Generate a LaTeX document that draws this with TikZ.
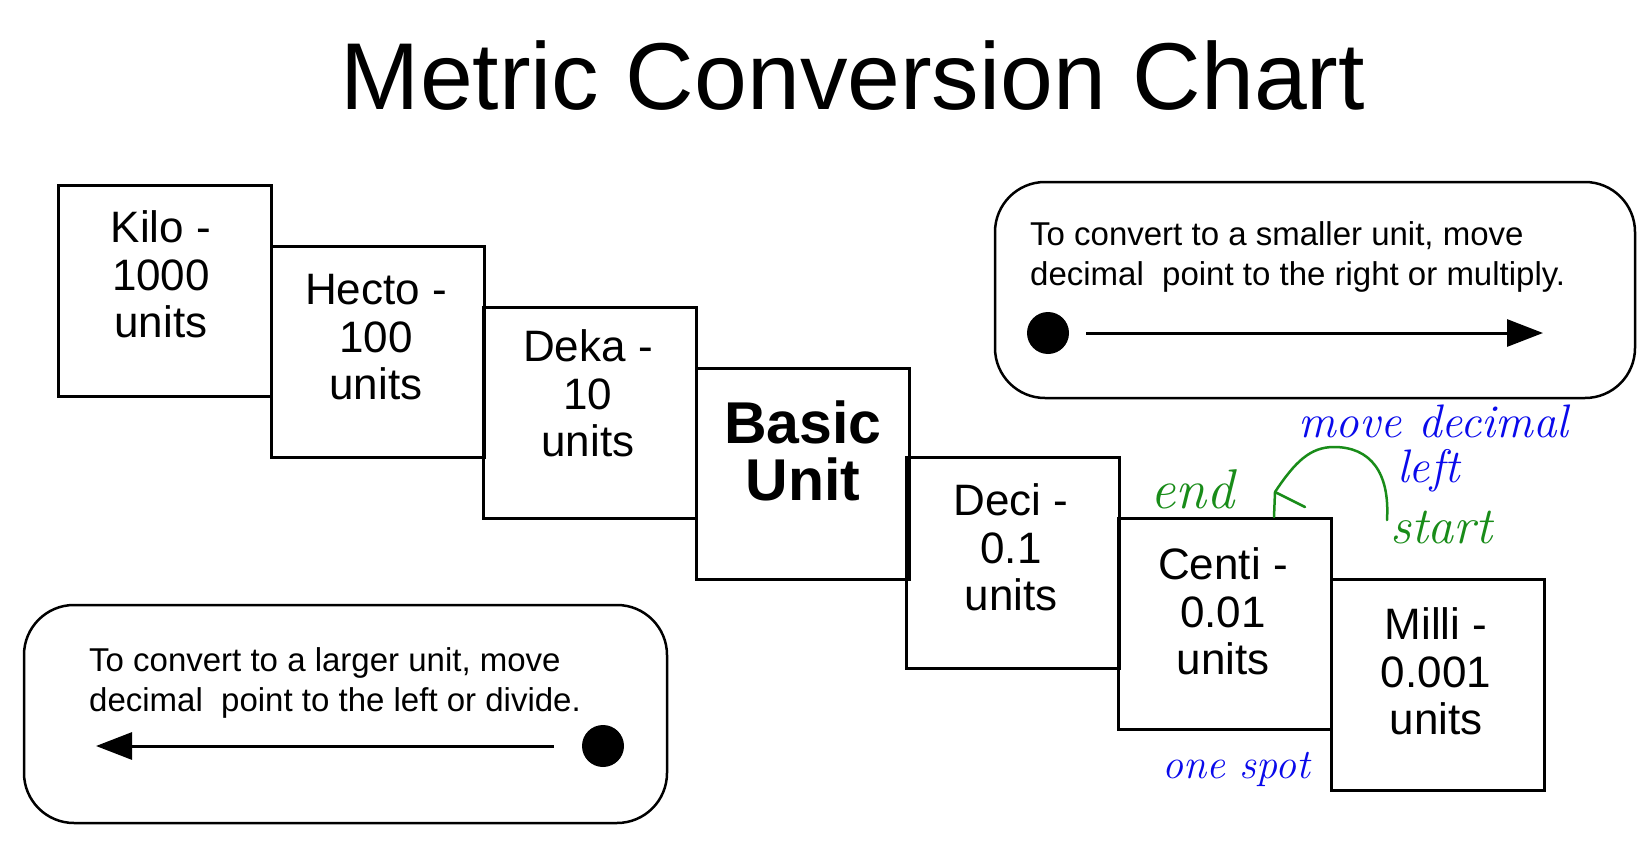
\documentclass[tikz,border=0pt]{standalone}
\usepackage{fontspec}
\newfontfamily\arial{Liberation Sans}
\usetikzlibrary{arrows.meta}
\definecolor{penblue}{RGB}{10,10,235}
\definecolor{pengreen}{RGB}{25,140,25}
\begin{document}
\begin{tikzpicture}[x=1pt,y=-1pt,
  unitbox/.style={draw,line width=3pt,minimum width=213pt,minimum height=211pt,anchor=north west,inner sep=0pt},
  boxtext/.style={font=\arial\fontsize{44}{47.5}\selectfont,align=center,inner sep=0pt,anchor=north},
  basictext/.style={font=\arial\bfseries\fontsize{59}{57}\selectfont,align=center,inner sep=0pt,anchor=north},
  infobox/.style={draw,line width=2.5pt,rounded corners=50pt},
  infotext/.style={font=\arial\fontsize{33}{40}\selectfont,align=left,inner sep=0pt,anchor=north west},
  bigdot/.style={circle,fill=black,minimum size=42pt,inner sep=0pt},
  bigarrow/.style={line width=3pt,-{Triangle[length=36pt,width=27pt]}},
  hand/.style={inner sep=0pt,anchor=base west}
]
\useasboundingbox (0,0) rectangle (1639,851);

% title
\node[font=\arial\fontsize{95}{95}\selectfont,anchor=base,inner sep=0pt] (title) at (853,109) {Metric Conversion Chart};

% unit boxes
\node[unitbox] (kilo)  at (57,184)  {};
\node[unitbox] (hecto) at (270,245) {};
\node[unitbox] (deka)  at (482,306) {};
\node[unitbox] (basic) at (695,367) {};
\node[unitbox] (deci)  at (905,456) {};
\node[unitbox] (centi) at (1117,517) {};
\node[unitbox] (milli) at (1330,578) {};

\node[boxtext] (kilot)  at ([xshift=-4pt,yshift=-26.5pt]kilo.north)  {Kilo -\\1000\\units};
\node[boxtext] (hectot) at ([xshift=-2pt,yshift=-29.5pt]hecto.north) {Hecto -\\100\\units};
\node[boxtext] (dekat)  at ([xshift=-2pt,yshift=-23.5pt]deka.north)  {Deka -\\10\\units};
\node[basictext] (basict) at ([yshift=-34pt]basic.north) {Basic\\Unit};
\node[boxtext] (decit)  at ([xshift=-2pt,yshift=-27.5pt]deci.north)  {Deci -\\0.1\\units};
\node[boxtext] (centit) at ([xshift=-2pt,yshift=-30.5pt]centi.north) {Centi -\\0.01\\units};
\node[boxtext] (millit) at ([xshift=-2pt,yshift=-29.5pt]milli.north) {Milli -\\0.001\\units};

% info box: smaller unit
\draw[infobox] (995,182) rectangle (1635,398);
\node[infotext] (smalltext) at (1030,221.5) {To convert to a smaller unit, move\\decimal\ \ point to the right or multiply.};
\node[bigdot] (sdot) at (1048,333) {};
\coordinate (send) at (1543,333);
\draw[bigarrow] ([xshift=17pt]sdot.east) -- (send);

% info box: larger unit
\draw[infobox] (24,605) rectangle (667,823);
\node[infotext] (largetext) at (89,647.5) {To convert to a larger unit, move\\decimal\ \ point to the left or divide.};
\node[bigdot] (ldot) at (603,746) {};
\coordinate (lend) at (96,746);
\draw[bigarrow] ([xshift=-28pt]ldot.west) -- (lend);

% handwritten notes
\node[inner sep=0pt,anchor=north west,align=left,text=penblue,font=\rmfamily\itshape\fontsize{47}{45}\selectfont] (movedec) at (1298,404.5) {move decimal\\\hspace*{99pt}left};
\node[hand,text=pengreen,font=\rmfamily\itshape\fontsize{52}{52}\selectfont] (startw) at (1390,543) {start};
\node[hand,text=pengreen,font=\rmfamily\itshape\fontsize{56}{56}\selectfont] (endw) at (1150,508) {end};
\node[hand,text=penblue,font=\rmfamily\itshape\fontsize{42}{42}\selectfont] (onespot) at (1162,778) {one spot};

\coordinate (cstart) at (1387,520);
\coordinate (ctip) at (1275,492);
\draw[pengreen,line width=2.5pt,line cap=round]
  (cstart) .. controls (1390,472) and (1370,447) .. (1334,447)
           .. controls (1310,447) and (1295,462) .. (ctip);
\draw[pengreen,line width=2.5pt,line cap=round,line join=round]
  ([xshift=-1pt,yshift=-25pt]ctip) -- (ctip) -- ([xshift=30pt,yshift=-15pt]ctip);
\end{tikzpicture}
\end{document}
